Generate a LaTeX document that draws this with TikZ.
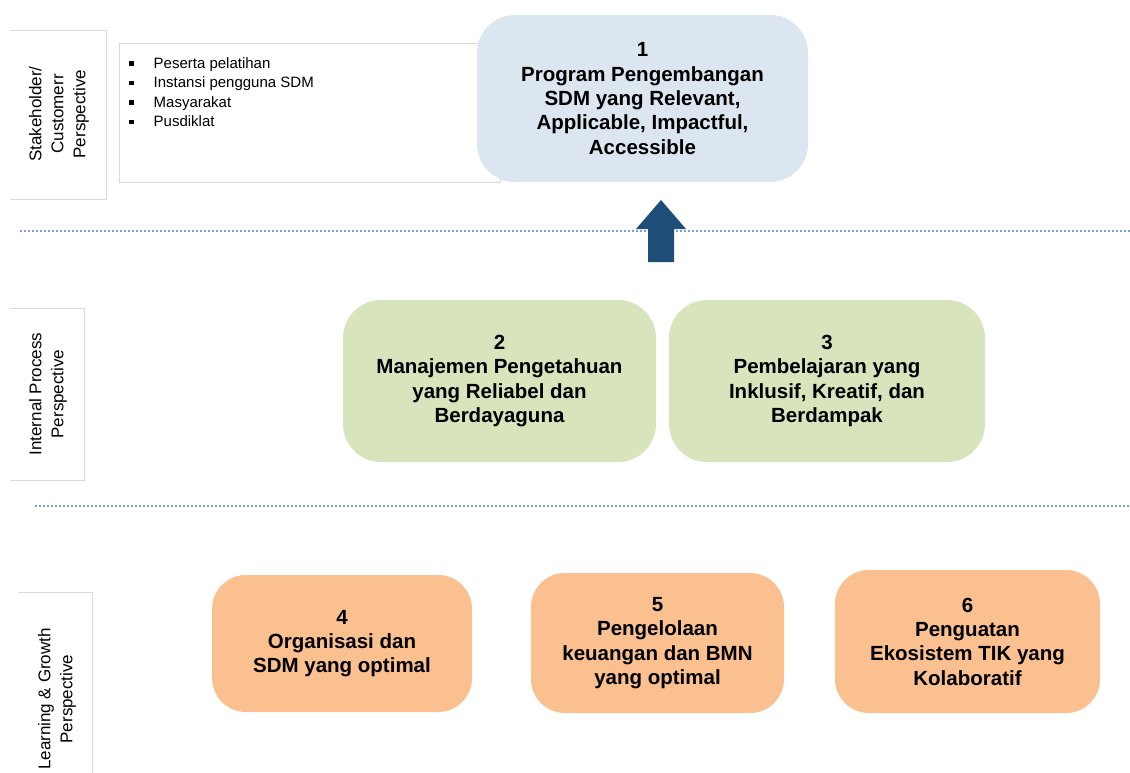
\documentclass[tikz,border=0pt]{standalone}
\usepackage{fontspec}
\setmainfont{Liberation Sans}
\begin{document}
\begin{tikzpicture}[x=1pt,y=-1pt,
  goal/.style={rounded corners=38pt, align=center, font=\fontsize{20.5}{24.3}\selectfont\bfseries, inner sep=0pt},
  bluegoal/.style={goal, fill=goalblue},
  greengoal/.style={goal, fill=goalgreen},
  orangegoal/.style={goal, fill=goalorange, rounded corners=34pt},
  persp/.style={rotate=90, align=center, font=\fontsize{17}{22}\selectfont},
  sepline/.style={draw=sepblue, dotted, line width=2pt},
  frameline/.style={draw=black!15, line width=0.8pt}]
\definecolor{goalblue}{HTML}{DCE6F1}
\definecolor{goalgreen}{HTML}{D8E4BC}
\definecolor{goalorange}{HTML}{FAC090}
\definecolor{sepblue}{HTML}{7F9FD3}
\definecolor{arrowblue}{HTML}{1F4E79}
\useasboundingbox (0,0) rectangle (1130,773);
\fill[white] (0,0) rectangle (1130,773);

% perspective label frames
\draw[frameline] (10,30) -- (106,30) -- (106,199) -- (10,199);
\draw[frameline] (10,308) -- (84,308) -- (84,480) -- (10,480);
\draw[frameline] (18,592) -- (92,592) -- (92,780);
\node[persp] (lstake) at (59,114) {Stakeholder/\\Customerr\\Perspective};
\node[persp] (linternal) at (48,394) {Internal Process\\Perspective};
\node[persp] (llearn) at (57,699) {Learning \& Growth\\Perspective};

% separators
\coordinate (s1a) at (20,231); \coordinate (s1b) at (1130,231);
\coordinate (s2a) at (35,506); \coordinate (s2b) at (1130,506);
\draw[sepline] (s1a) -- (s1b);
\draw[sepline] (s2a) -- (s2b);

% stakeholder list box
\draw[frameline] (119,43) rectangle (500,182);
\node[anchor=north west, align=left, font=\fontsize{15}{19.5}\selectfont, inner sep=0pt] (list) at (129,57)
 {\rule[2.5pt]{4.5pt}{4.5pt}\hspace{20pt}Peserta pelatihan\\
  \rule[2.5pt]{4.5pt}{4.5pt}\hspace{20pt}Instansi pengguna SDM\\
  \rule[2.5pt]{4.5pt}{4.5pt}\hspace{20pt}Masyarakat\\
  \rule[2.5pt]{4.5pt}{4.5pt}\hspace{20pt}Pusdiklat};

% goals
\node[bluegoal, minimum width=331pt, minimum height=167pt] (g1) at (642.5,98.5)
 {1\\Program Pengembangan\\SDM yang Relevant,\\Applicable, Impactful,\\Accessible};
\node[greengoal, minimum width=313pt, minimum height=162pt] (g2) at (499.5,381)
 {2\\Manajemen Pengetahuan\\yang Reliabel dan\\Berdayaguna};
\node[greengoal, minimum width=316pt, minimum height=162pt] (g3) at (827,381)
 {3\\Pembelajaran yang\\Inklusif, Kreatif, dan\\Berdampak};
\node[orangegoal, minimum width=260pt, minimum height=137pt] (g4) at (342,643.5)
 {4\\Organisasi dan\\SDM yang optimal};
\node[orangegoal, minimum width=253pt, minimum height=140pt] (g5) at (657.5,643)
 {5\\Pengelolaan\\keuangan dan BMN\\yang optimal};
\node[orangegoal, minimum width=265pt, minimum height=143pt] (g6) at (967.5,641.5)
 {6\\Penguatan\\Ekosistem TIK yang\\Kolaboratif};

% block arrow
\fill[arrowblue] (661,200) -- (686,229) -- (674,229) -- (674,262) -- (648,262) -- (648,229) -- (636,229) -- cycle;
\end{tikzpicture}
\end{document}
